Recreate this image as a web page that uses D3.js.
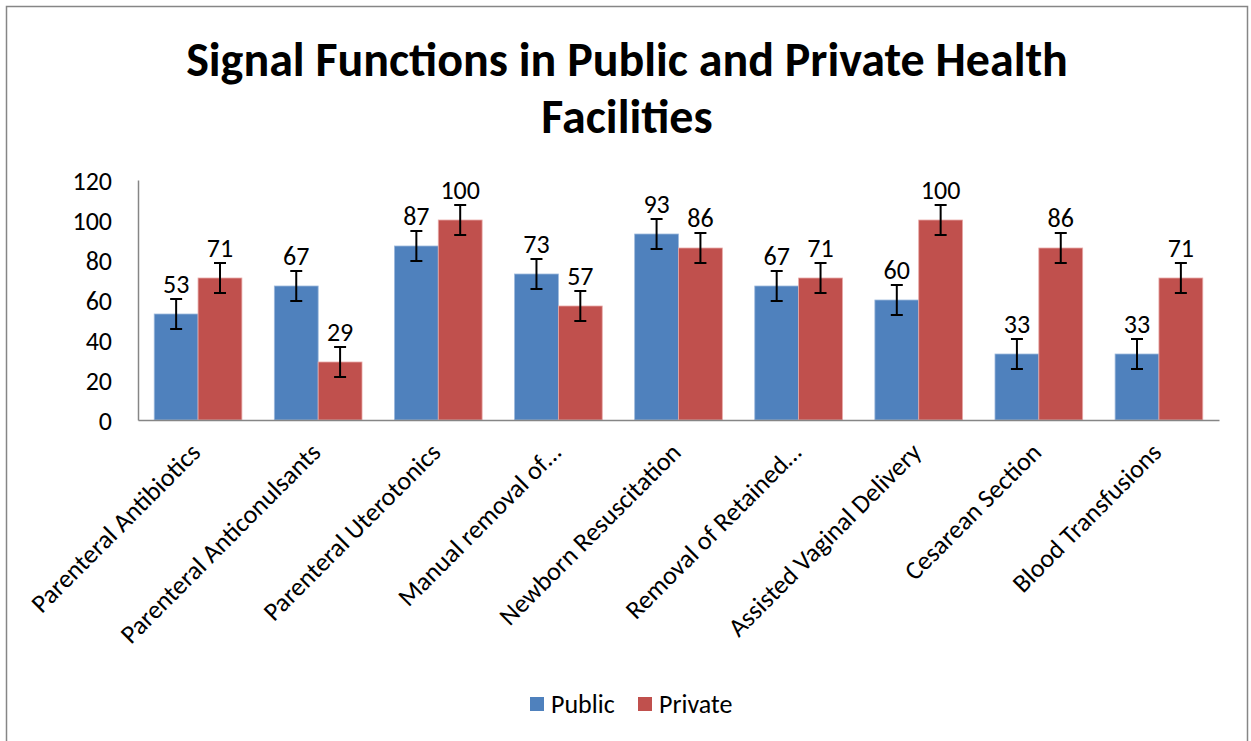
<!DOCTYPE html>
<html><head><meta charset="utf-8">
<script src="https://cdn.jsdelivr.net/npm/d3@7"></script>
<style>body{margin:0;background:#fff;font-family:Carlito,Lato,"Open Sans",sans-serif;}</style>
</head><body><svg id="c" width="1251" height="741"></svg>
<script>
const categories = ["Parenteral Antibiotics","Parenteral Anticonulsants","Parenteral Uterotonics","Manual removal of…","Newborn Resuscitation","Removal of Retained…","Assisted Vaginal Delivery","Cesarean Section","Blood Transfusions"];
const publicValues = [53,67,87,73,93,67,60,33,33];
const privateValues = [71,29,100,57,86,71,100,86,71];
const errorAmount = 7.5;
const seriesNames = ["Public","Private"];
const yTicks = [0,20,40,60,80,100,120];

const colors = {Public:"#4F81BD", Private:"#C0504D"};
const FONT = "Carlito,Lato,sans-serif";
const FS = 26;
const svg = d3.select("#c");
svg.append("rect").attr("x",6.5).attr("y",6.5).attr("width",1241).attr("height",740).attr("fill","#fff").attr("stroke","#868686").attr("stroke-width",1.5);

const m = {l:138, r:1219, t:180, b:420};
const x = d3.scaleBand().domain(categories).range([m.l,m.r]).paddingInner(0.27).paddingOuter(0.135);
const xs = d3.scaleBand().domain(seriesNames).range([0,x.bandwidth()]);
const y = d3.scaleLinear().domain([0,120]).range([m.b,m.t]);

// title
const title = svg.append("g").attr("font-weight","bold").attr("font-size",48).attr("font-family",FONT).attr("text-anchor","middle").attr("fill","#000");
title.append("text").attr("x",627).attr("y",76).text("Signal Functions in Public and Private Health");
title.append("text").attr("x",627).attr("y",133).text("Facilities");

// y axis
const yAxis = svg.append("g").attr("transform",`translate(${m.l},0)`).call(d3.axisLeft(y).tickValues(yTicks).tickSize(0).tickPadding(26));
yAxis.select(".domain").attr("stroke","#868686").attr("stroke-width",1.5);
yAxis.selectAll("text").attr("font-size",FS).attr("font-family",FONT).attr("fill","#000").attr("dy","0.35em");

const data = categories.map((c,i)=>({c, vals:[{s:"Public",v:publicValues[i]},{s:"Private",v:privateValues[i]}]}));
const g = svg.append("g").selectAll("g").data(data).join("g").attr("transform",d=>`translate(${x(d.c)},0)`);
g.selectAll("rect").data(d=>d.vals).join("rect")
  .attr("x",d=>xs(d.s)).attr("width",xs.bandwidth())
  .attr("y",d=>y(d.v)).attr("height",d=>y(0)-y(d.v))
  .attr("fill",d=>colors[d.s]).attr("stroke",d=>d.s==="Public"?"#9DB9DC":"#E8A9A7").attr("stroke-width",0.8);

// error bars
const eb = g.selectAll("g.eb").data(d=>d.vals).join("g").attr("class","eb").attr("stroke","#000").attr("stroke-width",2);
const cx = d=>xs(d.s)+xs.bandwidth()/2;
eb.append("line").attr("x1",cx).attr("x2",cx).attr("y1",d=>y(d.v+errorAmount)).attr("y2",d=>y(d.v-errorAmount));
eb.append("line").attr("x1",d=>cx(d)-6).attr("x2",d=>cx(d)+6).attr("y1",d=>y(d.v+errorAmount)).attr("y2",d=>y(d.v+errorAmount));
eb.append("line").attr("x1",d=>cx(d)-6).attr("x2",d=>cx(d)+6).attr("y1",d=>y(d.v-errorAmount)).attr("y2",d=>y(d.v-errorAmount));

// value labels
g.selectAll("text.v").data(d=>d.vals).join("text").attr("class","v")
  .attr("x",cx).attr("y",d=>y(d.v+errorAmount)-6)
  .attr("text-anchor","middle").attr("font-size",FS).attr("font-family",FONT).attr("fill","#000").text(d=>d.v);

// x axis
const xAxis = svg.append("g").attr("transform",`translate(0,${m.b})`).call(d3.axisBottom(x).tickSize(0).tickSizeOuter(0));
xAxis.select(".domain").attr("stroke","#868686").attr("stroke-width",1.5);
xAxis.selectAll("text").attr("font-size",FS).attr("font-family",FONT).attr("fill","#000")
  .attr("text-anchor","end").attr("dy",0).attr("y",0).attr("x",0)
  .attr("transform",`translate(4,34) rotate(-45)`);

// legend
const leg = svg.append("g");
const lx = [530, 638];
seriesNames.forEach((s,i)=>{
  leg.append("rect").attr("x",lx[i]).attr("y",697).attr("width",14).attr("height",14).attr("fill",colors[s]);
  leg.append("text").attr("x",lx[i]+21).attr("y",713).attr("font-size",FS).attr("font-family",FONT).attr("fill","#000").text(s);
});
</script></body></html>
